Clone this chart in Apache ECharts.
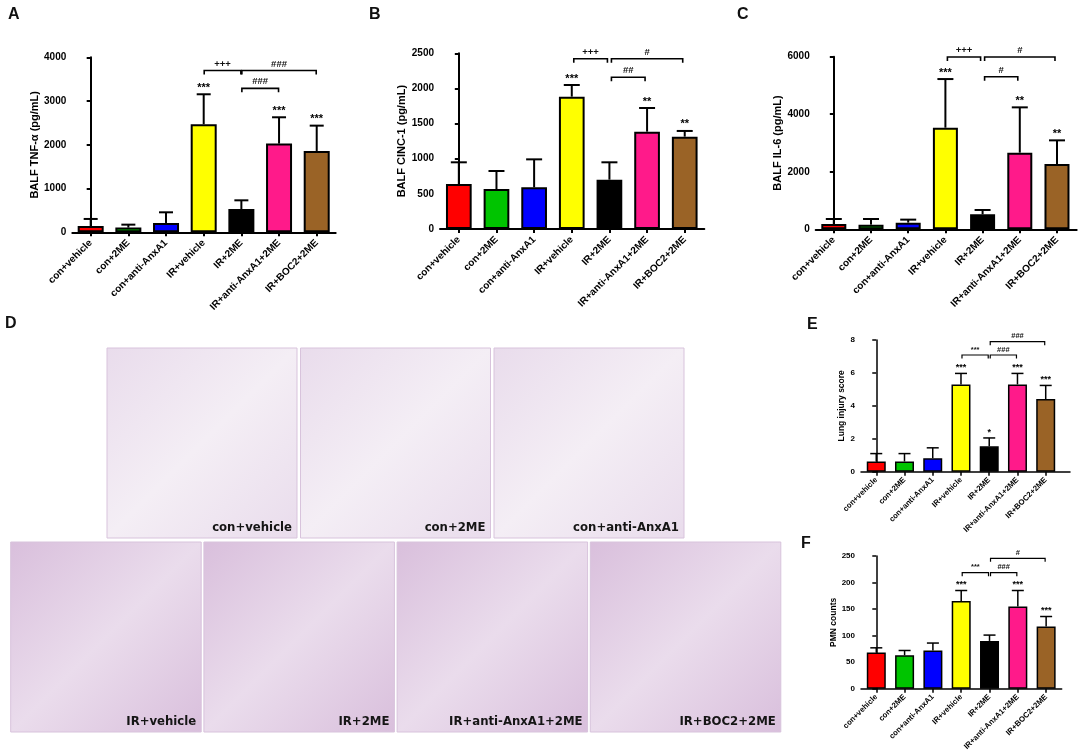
<!DOCTYPE html>
<html lang="en">

<head>
  <meta charset="UTF-8">
  <title>AnxA1 figure</title>
  <script src="https://cdn.jsdelivr.net/npm/echarts@6.0.0/dist/echarts.min.js"></script>
  <style>
    * {
      margin: 0;
      padding: 0;
    }

    body {
      background: #fff;
    }

    #main {
      width: 1084px;
      height: 752px;
    }
  </style>
</head>

<body>
  <div id="main"></div>
</body>

<script>
  // groups (same order in every panel)
  const groups = ['con+vehicle', 'con+2ME', 'con+anti-AnxA1', 'IR+vehicle', 'IR+2ME', 'IR+anti-AnxA1+2ME', 'IR+BOC2+2ME'];
  const groupColors = ['#ff0000', '#00c400', '#0000ff', '#ffff00', '#000000', '#ff1a8a', '#9a6326'];

  // A: BALF TNF-alpha
  const tnfMean = [145, 107, 213, 2469, 533, 2027, 1859];
  const tnfSd = [160, 68, 244, 686, 198, 602, 579];
  const tnfStars = ['', '', '', '***', '', '***', '***'];
  const tnfBrackets = [[3, 4, 3700, '+++'], [4, 6, 3700, '###'], [4, 5, 3290, '###']];

  // B: BALF CINC-1
  const cincMean = [640, 569, 593, 1883, 702, 1385, 1314];
  const cincSd = [309, 256, 398, 166, 247, 337, 81];
  const cincStars = ['', '', '', '***', '', '**', '**'];
  const cincBrackets = [[3, 4, 2423, '+++'], [4, 6, 2423, '#'], [4, 5, 2159, '##']];

  // C: BALF IL-6
  const il6Mean = [185, 162, 232, 3532, 521, 2664, 2270];
  const il6Sd = [174, 197, 104, 1691, 151, 1575, 822];
  const il6Stars = ['', '', '', '***', '', '**', '**'];
  const il6Brackets = [[3, 4, 5990, '+++'], [4, 6, 5990, '#'], [4, 5, 5305, '#']];

  // E: lung injury score
  const lungMean = [0.62, 0.62, 0.82, 5.3, 1.54, 5.3, 4.41];
  const lungSd = [0.48, 0.48, 0.63, 0.67, 0.51, 0.67, 0.83];
  const lungStars = ['', '', '', '***', '*', '***', '***'];
  const lungBrackets = [[3, 4, 7.09, '***'], [4, 5, 7.09, '###'], [4, 6, 7.9, '###']];

  // F: PMN counts
  const pmnMean = [68, 63, 72, 165, 90, 155, 117];
  const pmnSd = [9, 9, 14, 20, 11, 30, 19];
  const pmnStars = ['', '', '', '***', '', '***', '***'];
  const pmnBrackets = [[3, 4, 218.5, '***'], [4, 5, 218.5, '###'], [4, 6, 245.6, '#']];

  // D: histology captions
  const histoTop = ['con+vehicle', 'con+2ME', 'con+anti-AnxA1'];
  const histoBottom = ['IR+vehicle', 'IR+2ME', 'IR+anti-AnxA1+2ME', 'IR+BOC2+2ME'];

  const FONT = 'Liberation Sans, Arial, sans-serif';

  // layout of each bar panel
  const panels = [
    {
      grid: { left: 72.3, top: 57.3, width: 263.4, height: 175 }, xMin: -0.488, xMax: 6.504,
      yMax: 4000, yStep: 1000, name: 'BALF TNF-\u03b1 (pg/mL)', nameGap: 30, barW: 26, cap: 14, lw: 2,
      font: 10, xFont: 10, nameFont: 11, starFont: 11, brFont: 9.5, inset: 0.5,
      mean: tnfMean, sd: tnfSd, stars: tnfStars, brackets: tnfBrackets
    },
    {
      grid: { left: 440, top: 53.3, width: 264.3, height: 175.7 }, xMin: -0.5, xMax: 6.52,
      yMax: 2500, yStep: 500, name: 'BALF CINC-1 (pg/mL)', nameGap: 30, barW: 25.7, cap: 16, lw: 2,
      font: 10, xFont: 10, nameFont: 11, starFont: 11, brFont: 9.5, inset: 2,
      mean: cincMean, sd: cincSd, stars: cincStars, brackets: cincBrackets
    },
    {
      grid: { left: 815.7, top: 56.7, width: 261, height: 172.6 }, xMin: -0.487, xMax: 6.53,
      yMax: 6000, yStep: 2000, name: 'BALF IL-6 (pg/mL)', nameGap: 30, barW: 25, cap: 16, lw: 2,
      font: 10, xFont: 10, nameFont: 11, starFont: 11, brFont: 9.5, inset: 2,
      mean: il6Mean, sd: il6Sd, stars: il6Stars, brackets: il6Brackets
    },
    {
      grid: { left: 861, top: 340, width: 209, height: 131.7 }, xMin: -0.54, xMax: 6.86,
      yMax: 8, yStep: 2, name: 'Lung injury score', nameGap: 12, barW: 19, cap: 12, lw: 1.5,
      font: 8, xFont: 7.8, nameFont: 8.5, starFont: 9, brFont: 7.5, inset: 1,
      mean: lungMean, sd: lungSd, stars: lungStars, brackets: lungBrackets
    },
    {
      grid: { left: 861, top: 556, width: 200.7, height: 132.7 }, xMin: -0.54, xMax: 6.55,
      yMax: 250, yStep: 50, name: 'PMN counts', nameGap: 18, barW: 19, cap: 12, lw: 1.5,
      font: 8, xFont: 7.8, nameFont: 8.5, starFont: 9, brFont: 7.5, inset: 1,
      mean: pmnMean, sd: pmnSd, stars: pmnStars, brackets: pmnBrackets
    }
  ];

  const grids = [], xAxes = [], yAxes = [], series = [];

  panels.forEach(function (p, k) {
    grids.push(Object.assign({ outerBoundsMode: 'none', containLabel: false }, p.grid));
    const idx = groups.map((g, i) => i);

    xAxes.push({
      type: 'value', gridIndex: k, min: p.xMin, max: p.xMax,
      splitLine: { show: false },
      axisLine: { show: true, onZero: false, lineStyle: { color: '#000', width: p.lw } },
      axisTick: { show: true, customValues: idx, length: 4, lineStyle: { color: '#000', width: p.lw } },
      axisLabel: {
        customValues: idx, rotate: 45, margin: p.font > 9 ? 9 : 7,
        formatter: v => groups[Math.round(v)],
        color: '#000', fontWeight: 'bold', fontSize: p.xFont, fontFamily: FONT
      }
    });

    yAxes.push({
      type: 'value', gridIndex: k, min: 0, max: p.yMax, interval: p.yStep,
      name: p.name, nameLocation: 'middle', nameGap: p.nameGap,
      nameTextStyle: { color: '#000', fontWeight: 'bold', fontSize: p.nameFont, fontFamily: FONT },
      splitLine: { show: false },
      axisLine: { show: true, lineStyle: { color: '#000', width: p.lw } },
      axisTick: { show: true, length: 4, lineStyle: { color: '#000', width: p.lw } },
      axisLabel: {
        margin: 6, formatter: v => String(v),
        color: '#000', fontWeight: 'bold', fontSize: p.font, fontFamily: FONT
      }
    });

    // bars
    series.push({
      type: 'bar', xAxisIndex: k, yAxisIndex: k, barWidth: p.barW, z: 2,
      data: p.mean.map((m, i) => ({
        value: [i, m],
        itemStyle: { color: groupColors[i], borderColor: '#000', borderWidth: p.lw }
      }))
    });

    // upper error bars
    series.push({
      type: 'custom', xAxisIndex: k, yAxisIndex: k, z: 3,
      data: p.mean.map((m, i) => [i, m, p.sd[i]]),
      encode: { x: 0, y: 1 },
      renderItem: function (params, api) {
        const x = api.value(0), m = api.value(1), s = api.value(2);
        const b = api.coord([x, m]), t = api.coord([x, m + s]);
        const st = { stroke: '#000', lineWidth: p.lw };
        return {
          type: 'group', children: [
            { type: 'line', shape: { x1: b[0], y1: b[1], x2: t[0], y2: t[1] }, style: st },
            { type: 'line', shape: { x1: t[0] - p.cap / 2, y1: t[1], x2: t[0] + p.cap / 2, y2: t[1] }, style: st }
          ]
        };
      }
    });

    // stars above error bars
    series.push({
      type: 'custom', xAxisIndex: k, yAxisIndex: k, z: 4,
      data: p.mean.map((m, i) => [i, m + p.sd[i]]),
      encode: { x: 0, y: 1 },
      renderItem: function (params, api) {
        const t = api.coord([api.value(0), api.value(1)]);
        return {
          type: 'text', x: t[0], y: t[1] - 1,
          style: {
            text: p.stars[params.dataIndex], fill: '#000', align: 'center', verticalAlign: 'bottom',
            fontSize: p.starFont, fontWeight: 'bold', fontFamily: FONT
          }
        };
      }
    });

    // comparison brackets
    series.push({
      type: 'custom', xAxisIndex: k, yAxisIndex: k, z: 4, clip: false,
      data: p.brackets.map(b => [b[0], b[2], b[1]]),
      encode: { x: [0, 2], y: 1 },
      renderItem: function (params, api) {
        const a = api.coord([api.value(0), api.value(1)]);
        const c = api.coord([api.value(2), api.value(1)]);
        const x1 = a[0] + p.inset, x2 = c[0] - p.inset, y = a[1];
        const tick = p.lw > 1.8 ? 4 : 3.5;
        return {
          type: 'group', children: [
            {
              type: 'polyline',
              shape: { points: [[x1, y + tick], [x1, y], [x2, y], [x2, y + tick]] },
              style: { stroke: '#000', lineWidth: p.lw * 0.8, fill: null }
            },
            {
              type: 'text', x: (x1 + x2) / 2, y: y - 1.5,
              style: {
                text: p.brackets[params.dataIndex][3], fill: '#111', align: 'center', verticalAlign: 'bottom',
                fontSize: p.brFont, fontWeight: 'bold', fontFamily: FONT
              }
            }
          ]
        };
      }
    });
  });

  // panel letters
  const letters = [['A', 8, 7], ['B', 369, 7], ['C', 737, 7], ['D', 5, 316], ['E', 807, 317], ['F', 801, 536]];
  const graphics = letters.map(l => ({
    type: 'text', left: l[1], top: l[2],
    style: { text: l[0], fontSize: 16, fontWeight: 'bold', fontFamily: FONT, fill: '#111' }
  }));

  // histology panels (photos stood in by tinted frames)
  function photo(x, y, w, h, caption, tint) {
    graphics.push({
      type: 'rect', shape: { x: x, y: y, width: w, height: h },
      style: {
        fill: new echarts.graphic.LinearGradient(0, 0, 1, 1, [
          { offset: 0, color: tint[0] }, { offset: 0.5, color: tint[1] }, { offset: 1, color: tint[0] }
        ]),
        stroke: '#d8c3dc', lineWidth: 1
      }
    });
    graphics.push({
      type: 'text', x: x + w - 5, y: y + h - 4,
      style: {
        text: caption, align: 'right', verticalAlign: 'bottom', fill: '#151515',
        fontSize: 13, fontWeight: 'bold',
        fontFamily: 'Liberation Sans Narrow, DejaVu Sans Condensed, Liberation Sans, sans-serif'
      }
    });
  }
  histoTop.forEach((c, i) => photo(107 + i * 193.5, 348, 190, 190, c, ['#e9dcec', '#f4eef5']));
  histoBottom.forEach((c, i) => photo(10.7 + i * 193.2, 542, 190.5, 190, c, ['#d9bfdc', '#eadcec']));

  const myChart = echarts.init(document.getElementById('main'));
  myChart.setOption({
    animation: false,
    backgroundColor: '#fff',
    grid: grids,
    xAxis: xAxes,
    yAxis: yAxes,
    series: series,
    graphic: graphics
  });
</script>

</html>
